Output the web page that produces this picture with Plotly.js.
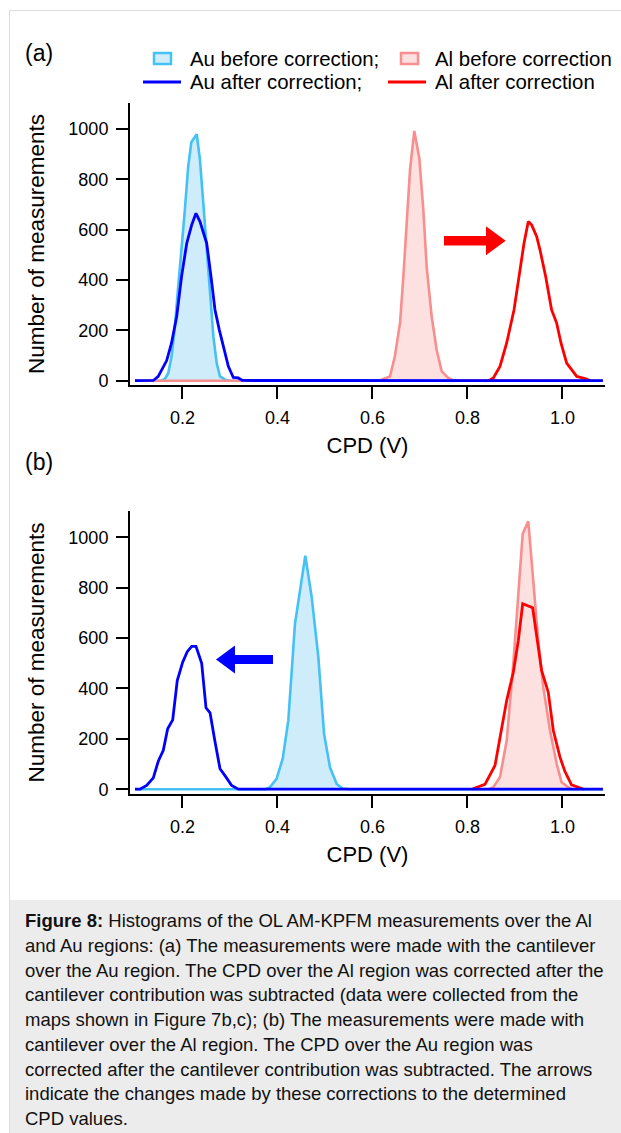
<!DOCTYPE html>
<html>
<head>
<meta charset="utf-8">
<script src="https://cdn.plot.ly/plotly-3.0.1.min.js"></script>
<style>
  html, body { margin:0; padding:0; background:#fff; width:621px; height:1133px; overflow:hidden; }
  #frame { position:absolute; left:9px; top:10px; width:640px; height:1200px; border-top:1px solid #dcdcdc; border-left:1px solid #dcdcdc; }
  #chart { position:absolute; left:0; top:0; width:621px; height:900px; }
  #caption { position:absolute; left:10px; top:900px; width:611px; height:233px; background:#ececec;
             font-family: Arial, "Liberation Sans", sans-serif; font-size:18.5px; line-height:24.75px; color:#111;
             box-sizing:border-box; padding:9px 0 0 15px; }
  #caption div { white-space:nowrap; }
</style>
</head>
<body>
<div id="frame"></div>
<div id="chart"></div>
<div id="caption">
  <div><b>Figure 8:</b> Histograms of the OL AM-KPFM measurements over the Al</div>
  <div>and Au regions: (a) The measurements were made with the cantilever</div>
  <div>over the Au region. The CPD over the Al region was corrected after the</div>
  <div>cantilever contribution was subtracted (data were collected from the</div>
  <div>maps shown in Figure 7b,c); (b) The measurements were made with</div>
  <div>cantilever over the Al region. The CPD over the Au region was</div>
  <div>corrected after the cantilever contribution was subtracted. The arrows</div>
  <div>indicate the changes made by these corrections to the determined</div>
  <div>CPD values.</div>
</div>
<script>
// ---------------- data ----------------
const seriesNames = ["Au before correction;", "Au after correction;", "Al before correction", "Al after correction"];

// Panel (a)
const auBeforeA_x = [0.10,0.155,0.163,0.170,0.177,0.184,0.191,0.198,0.205,0.212,0.2186,0.230,0.2368,0.2438,0.251,0.258,0.265,0.272,0.279,0.2895,0.30,1.085];
const auBeforeA_y = [0,0,7,30,96,215,374,520,679,850,947,979,877,705,520,335,176,70,17,4,0,0];
const auAfterA_x  = [0.10,0.1386,0.149,0.1667,0.177,0.1878,0.198,0.209,0.2194,0.2284,0.2368,0.247,0.251,0.260,0.2684,0.2775,0.2874,0.2965,0.307,0.3175,0.326,1.085];
const auAfterA_y  = [0,1,17,80,150,255,414,546,619,665,632,566,546,414,282,202,123,57,13,11,1,0];
const alBeforeA_x = [0.10,0.615,0.6228,0.6368,0.647,0.658,0.665,0.672,0.679,0.688,0.6986,0.707,0.714,0.7246,0.735,0.7457,0.7596,0.7698,1.085];
const alBeforeA_y = [0,0,7,17,96,229,414,639,837,992,884,679,454,255,123,37,11,2,0];
const alAfterA_x  = [0.845,0.8544,0.8684,0.8825,0.898,0.909,0.919,0.928,0.935,0.9456,0.9526,0.9646,0.977,0.9877,0.9968,1.0088,1.030,1.051,1.058];
const alAfterA_y  = [0,11,57,150,282,414,546,632,619,573,520,414,282,229,150,70,17,7,0];

// Panel (b)
const auBeforeB_x = [0.10,0.375,0.384,0.398,0.411,0.4228,0.4368,0.4474,0.4586,0.472,0.486,0.498,0.5105,0.5246,0.537,0.55,1.085];
const auBeforeB_y = [0,0,8,41,121,273,656,788,927,762,524,220,87,21,3,0,0];
const auAfterB_x  = [0.10,0.1105,0.1246,0.1386,0.149,0.1596,0.1688,0.1794,0.189,0.2004,0.210,0.2194,0.2284,0.2404,0.2495,0.258,0.268,0.279,0.2916,0.3035,0.3175,1.085];
const auAfterB_y  = [0,0,15,45,111,154,240,275,431,504,546,567,567,500,323,303,193,81,48,15,0,0];
const alBeforeB_x = [0.845,0.8544,0.8684,0.8825,0.8965,0.907,0.9162,0.928,0.9386,0.949,0.9596,0.9737,0.9878,0.998,1.012,1.02];
const alBeforeB_y = [0,8,48,193,498,775,1013,1063,828,590,405,233,101,28,8,0];
const alAfterB_x  = [0.81,0.8158,0.8368,0.8579,0.8825,0.8965,0.907,0.9162,0.9372,0.9456,0.956,0.970,0.9807,0.9947,1.005,1.019,1.040,1.045];
const alAfterB_y  = [0,5,19,94,352,464,590,736,720,617,471,385,233,127,71,17,5,0];

const xTicks = [0.2, 0.4, 0.6, 0.8, 1.0];
const yTicks = [0, 200, 400, 600, 800, 1000];

// correction arrows (x in V, y in counts)
const arrowA = {from:0.7505, neck:0.8389, tip:0.8804, y:556, half:18.6, headHalf:57.5};
const arrowB = {from:0.3905, neck:0.3105, tip:0.2705, y:515, half:17.9, headHalf:55.6};

// ---------------- styles ----------------
const C = {
  auBeforeLine:'#45c1f5', auBeforeFill:'#cfecfb',
  auAfter:'#0000ff',
  alBeforeLine:'#f98e8e', alBeforeFill:'#fde0e0',
  alAfter:'#ff0000'
};
const FONT = 'Arial, "Liberation Sans", sans-serif';

function fillTrace(x, y, line, fill, xa, ya){
  return {x:x, y:y, type:'scatter', mode:'lines', fill:'tozeroy', fillcolor:fill,
          line:{color:line, width:2.6}, xaxis:xa, yaxis:ya, showlegend:false, hoverinfo:'skip'};
}
function lineTrace(x, y, color, xa, ya){
  return {x:x, y:y, type:'scatter', mode:'lines', line:{color:color, width:2.8},
          xaxis:xa, yaxis:ya, showlegend:false, hoverinfo:'skip'};
}

const data = [
  fillTrace(auBeforeA_x, auBeforeA_y, C.auBeforeLine, C.auBeforeFill, 'x', 'y'),
  fillTrace(alBeforeA_x, alBeforeA_y, C.alBeforeLine, C.alBeforeFill, 'x', 'y'),
  lineTrace(alAfterA_x, alAfterA_y, C.alAfter, 'x', 'y'),
  lineTrace(auAfterA_x, auAfterA_y, C.auAfter, 'x', 'y'),
  fillTrace(auBeforeB_x, auBeforeB_y, C.auBeforeLine, C.auBeforeFill, 'x2', 'y2'),
  fillTrace(alBeforeB_x, alBeforeB_y, C.alBeforeLine, C.alBeforeFill, 'x2', 'y2'),
  lineTrace(alAfterB_x, alAfterB_y, C.alAfter, 'x2', 'y2'),
  lineTrace(auAfterB_x, auAfterB_y, C.auAfter, 'x2', 'y2')
];

// ---------------- layout geometry ----------------
const W = 621, H = 900, M = {l:130, r:16, t:103, b:106};
const PW = W - M.l - M.r, PH = H - M.t - M.b;
const PX = px => (px - M.l) / PW;
const PY = py => (H - M.b - py) / PH;

function xaxisDef(anchor){
  return {anchor:anchor, domain:[0,1], range:[0.0895, 1.0895], showline:true, linewidth:2, linecolor:'#000',
          ticks:'outside', ticklen:12, tickwidth:2, tickcolor:'#000', tickvals:xTicks, tickformat:'.1f',
          ticklabelstandoff:3,
          tickfont:{size:18, family:FONT, color:'#000'}, showgrid:false, zeroline:false, fixedrange:true,
          title:{text:'CPD (V)', font:{size:22, family:FONT, color:'#000'}, standoff:11}};
}
function yaxisDef(anchor, domain, range){
  return {anchor:anchor, domain:domain, range:range, showline:true, linewidth:2, linecolor:'#000',
          ticks:'outside', ticklen:12, tickwidth:2, tickcolor:'#000', tickvals:yTicks,
          tickfont:{size:18, family:FONT, color:'#000'}, showgrid:false, zeroline:false, fixedrange:true,
          ticklabelstandoff:4,
          title:{text:'Number of measurements', font:{size:22.5, family:FONT, color:'#000'}, standoff:17}};
}

function arrowPath(a){
  return 'M' + a.from + ',' + (a.y - a.half) + ' L' + a.neck + ',' + (a.y - a.half) +
         ' L' + a.neck + ',' + (a.y - a.headHalf) + ' L' + a.tip + ',' + a.y +
         ' L' + a.neck + ',' + (a.y + a.headHalf) + ' L' + a.neck + ',' + (a.y + a.half) +
         ' L' + a.from + ',' + (a.y + a.half) + ' Z';
}

// legend (drawn in pixel-derived paper coordinates)
const legendRow1 = 59, legendRow2 = 82;
const legendColText = [188, 433];
const shapes = [
  {type:'path', xref:'x', yref:'y', path:arrowPath(arrowA), fillcolor:C.alAfter, line:{width:0}},
  {type:'path', xref:'x2', yref:'y2', path:arrowPath(arrowB), fillcolor:C.auAfter, line:{width:0}},
  {type:'rect', xref:'paper', yref:'paper', x0:PX(154), x1:PX(171), y0:PY(64), y1:PY(53),
   fillcolor:C.auBeforeFill, line:{color:C.auBeforeLine, width:2.5}},
  {type:'rect', xref:'paper', yref:'paper', x0:PX(401), x1:PX(418), y0:PY(64), y1:PY(53),
   fillcolor:C.alBeforeFill, line:{color:C.alBeforeLine, width:2.5}},
  {type:'line', xref:'paper', yref:'paper', x0:PX(143), x1:PX(181), y0:PY(legendRow2), y1:PY(legendRow2),
   line:{color:C.auAfter, width:2.8}},
  {type:'line', xref:'paper', yref:'paper', x0:PX(388), x1:PX(426), y0:PY(legendRow2), y1:PY(legendRow2),
   line:{color:C.alAfter, width:2.8}}
];

function txt(text, px, py, size){
  return {text:text, xref:'paper', yref:'paper', x:PX(px), y:PY(py), xanchor:'left', yanchor:'middle',
          showarrow:false, font:{size:size, family:FONT, color:'#000'}};
}
const annotations = [
  txt('(a)', 23, 53, 23),
  txt('(b)', 23, 462, 23),
  txt(seriesNames[0], legendColText[0], legendRow1, 20.4),
  txt(seriesNames[1], legendColText[0], legendRow2, 20.4),
  txt(seriesNames[2], legendColText[1], legendRow1, 20.4),
  txt(seriesNames[3], legendColText[1], legendRow2, 20.4)
];

const layout = {
  width:W, height:H, margin:M,
  paper_bgcolor:'rgba(0,0,0,0)', plot_bgcolor:'rgba(0,0,0,0)',
  showlegend:false,
  font:{family:FONT, color:'#000'},
  xaxis: xaxisDef('y'),
  yaxis: yaxisDef('x', [PY(385), 1], [-17, 1103]),
  xaxis2: xaxisDef('y2'),
  yaxis2: yaxisDef('x2', [0, PY(511)], [-19, 1104]),
  shapes:shapes,
  annotations:annotations
};

Plotly.newPlot('chart', data, layout, {displayModeBar:false, staticPlot:true});
</script>
</body>
</html>
